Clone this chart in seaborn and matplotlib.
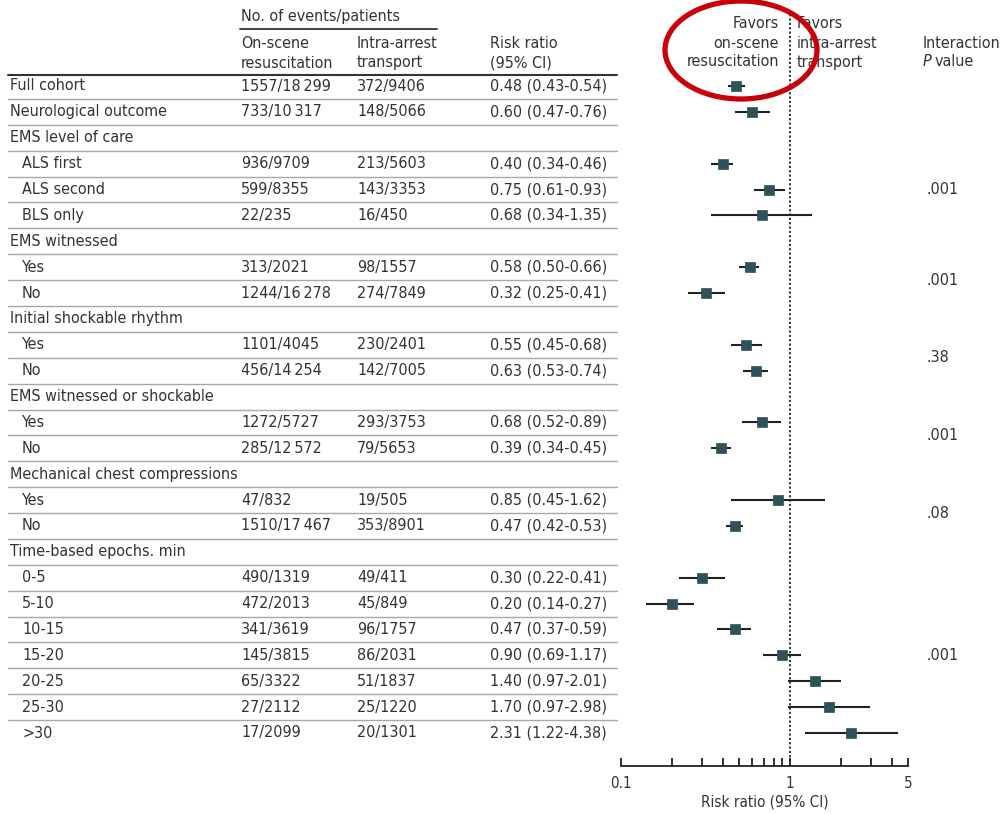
import numpy as np
import pandas as pd
import matplotlib
matplotlib.use("Agg")
import matplotlib.pyplot as plt
import matplotlib.transforms as mtransforms
from matplotlib import font_manager as fm
from matplotlib.patches import Ellipse
import seaborn as sns

# ---------------- data ----------------
labels = ["Full cohort", "Neurological outcome", "EMS level of care", "ALS first", "ALS second",
          "BLS only", "EMS witnessed", "Yes", "No", "Initial shockable rhythm", "Yes", "No",
          "EMS witnessed or shockable", "Yes", "No", "Mechanical chest compressions", "Yes", "No",
          "Time-based epochs. min", "0-5", "5-10", "10-15", "15-20", "20-25", "25-30", ">30"]
indented = [0, 0, 0, 1, 1, 1, 0, 1, 1, 0, 1, 1, 0, 1, 1, 0, 1, 1, 0, 1, 1, 1, 1, 1, 1, 1]
onscene = ["1557/18\u2009299", "733/10\u2009317", "", "936/9709", "599/8355", "22/235", "",
           "313/2021", "1244/16\u2009278", "", "1101/4045", "456/14\u2009254", "",
           "1272/5727", "285/12\u2009572", "", "47/832", "1510/17\u2009467", "",
           "490/1319", "472/2013", "341/3619", "145/3815", "65/3322", "27/2112", "17/2099"]
intra = ["372/9406", "148/5066", "", "213/5603", "143/3353", "16/450", "",
         "98/1557", "274/7849", "", "230/2401", "142/7005", "",
         "293/3753", "79/5653", "", "19/505", "353/8901", "",
         "49/411", "45/849", "96/1757", "86/2031", "51/1837", "25/1220", "20/1301"]
rr = [0.48, 0.60, np.nan, 0.40, 0.75, 0.68, np.nan, 0.58, 0.32, np.nan, 0.55, 0.63, np.nan,
      0.68, 0.39, np.nan, 0.85, 0.47, np.nan, 0.30, 0.20, 0.47, 0.90, 1.40, 1.70, 2.31]
lo = [0.43, 0.47, np.nan, 0.34, 0.61, 0.34, np.nan, 0.50, 0.25, np.nan, 0.45, 0.53, np.nan,
      0.52, 0.34, np.nan, 0.45, 0.42, np.nan, 0.22, 0.14, 0.37, 0.69, 0.97, 0.97, 1.22]
hi = [0.54, 0.76, np.nan, 0.46, 0.93, 1.35, np.nan, 0.66, 0.41, np.nan, 0.68, 0.74, np.nan,
      0.89, 0.45, np.nan, 1.62, 0.53, np.nan, 0.41, 0.27, 0.59, 1.17, 2.01, 2.98, 4.38]
pval_groups = [(3, 5), (7, 8), (10, 11), (13, 14), (16, 17), (19, 25)]
pval_text = [".001", ".001", ".38", ".001", ".08", ".001"]
xticks_major = [0.1, 1, 5]
xtick_labels = ["0.1", "1", "5"]
xticks_minor = [0.2, 0.3, 0.4, 0.5, 0.6, 0.7, 0.8, 0.9, 2, 3, 4]

df = pd.DataFrame({"label": labels, "indent": indented, "onscene": onscene, "intra": intra,
                   "rr": rr, "lo": lo, "hi": hi})
df["row"] = np.arange(len(df))

# ---------------- style ----------------
sns.set_style("white")
names = {f.name for f in fm.fontManager.ttflist}
STRETCH = "normal"
if "Liberation Sans Narrow" in names:
    FAM = ["Liberation Sans Narrow", "DejaVu Sans"]
else:
    FAM = ["DejaVu Sans"]
    if any(f.name == "DejaVu Sans" and f.stretch == "condensed" for f in fm.fontManager.ttflist):
        STRETCH = "condensed"
plt.rcParams["font.family"] = FAM
plt.rcParams["font.stretch"] = STRETCH
TXT = "#333333"
MK = "#2d5257"

W, H = 1001, 814
fig = plt.figure(figsize=(W / 100, H / 100), dpi=100)
fig.patch.set_facecolor("white")

# fit font size so "0.48 (0.43-0.54)" is ~117 px wide, like the reference
renderer = fig.canvas.get_renderer()
probe = fig.text(0, 0, "0.48 (0.43-0.54)", fontsize=10)
wpx = probe.get_window_extent(renderer).width
probe.remove()
FS = 10 * 117.0 / wpx

ax_l, ax_r, ax_bot = 621, 908, 766
ax = fig.add_axes([ax_l / W, (H - ax_bot) / H, (ax_r - ax_l) / W, ax_bot / H])
ax.set_xscale("log")
ax.set_xlim(0.1, 5)
row0_px, row_step = 86, 25.88
ax.set_ylim((ax_bot - row0_px) / row_step, (0 - row0_px) / row_step)

def py(p):  # figure pixel y -> data y
    return (p - row0_px) / row_step

d = df.dropna(subset=["rr"])
ax.hlines(d["row"], d["lo"], d["hi"], color="#222222", lw=1.5, zorder=2)
sns.scatterplot(data=d, x="rr", y="row", marker="s", s=48, color=MK, edgecolor=MK,
                linewidth=0.5, ax=ax, zorder=3, legend=False)
ax.vlines(1, py(766), py(12), color="#222222", lw=1.3, linestyles=(0, (1.2, 1.2)), zorder=1)

for s in ["top", "right", "left"]:
    ax.spines[s].set_visible(False)
ax.spines["bottom"].set_color("#222222")
ax.spines["bottom"].set_linewidth(1.3)
ax.set_yticks([])
ax.set_ylabel("")
ax.set_xticks(xticks_major)
ax.set_xticklabels(xtick_labels)
ax.set_xticks(xticks_minor, minor=True)
ax.xaxis.set_minor_formatter(matplotlib.ticker.NullFormatter())
ax.tick_params(axis="x", which="both", direction="in", length=6, width=1.3, color="#222222",
               bottom=True, labelsize=FS * 0.95, labelcolor=TXT, pad=7)
ax.set_xlabel("Risk ratio (95% CI)", fontsize=FS * 0.95, color=TXT, labelpad=3)
ax.patch.set_alpha(0)

# ---------------- table ----------------
tr = mtransforms.blended_transform_factory(fig.transFigure, ax.transData)
def fx(p):
    return p / W

for _, r in df.iterrows():
    y = r["row"]
    x0 = 22 if r["indent"] else 10
    kw = dict(transform=tr, va="center", ha="left", fontsize=FS, color=TXT, clip_on=False)
    fig.text(fx(x0), y, r["label"], **kw)
    if r["onscene"]:
        fig.text(fx(241), y, r["onscene"], **kw)
        fig.text(fx(357), y, r["intra"], **kw)
        fig.text(fx(490), y, f"{r['rr']:.2f} ({r['lo']:.2f}-{r['hi']:.2f})", **kw)

# separator lines
for i in range(len(df) - 1):
    fig.add_artist(plt.Line2D([fx(8), fx(617)], [i + 0.5, i + 0.5], transform=tr,
                              color="#a8a8a8", lw=1.0))
fig.add_artist(plt.Line2D([fx(8), fx(617)], [py(75), py(75)], transform=tr,
                          color="#333333", lw=1.5))
fig.add_artist(plt.Line2D([fx(240), fx(437)], [py(29), py(29)], transform=tr,
                          color="#333333", lw=1.3))

# headers
hk = dict(transform=tr, va="center", fontsize=FS, color=TXT)
fig.text(fx(241), py(17), "No. of events/patients", ha="left", **hk)
fig.text(fx(241), py(44), "On-scene", ha="left", **hk)
fig.text(fx(241), py(63), "resuscitation", ha="left", **hk)
fig.text(fx(357), py(44), "Intra-arrest", ha="left", **hk)
fig.text(fx(357), py(63), "transport", ha="left", **hk)
fig.text(fx(490), py(44), "Risk ratio", ha="left", **hk)
fig.text(fx(490), py(63), "(95% CI)", ha="left", **hk)
fig.text(fx(779), py(23), "Favors", ha="right", **hk)
fig.text(fx(779), py(43), "on-scene", ha="right", **hk)
fig.text(fx(779), py(62), "resuscitation", ha="right", **hk)
fig.text(fx(797), py(23), "Favors", ha="left", **hk)
fig.text(fx(797), py(43), "intra-arrest", ha="left", **hk)
fig.text(fx(797), py(62), "transport", ha="left", **hk)
fig.text(fx(923), py(43), "Interaction", ha="left", **hk)
ptxt = fig.text(fx(923), py(61), "P", ha="left", style="italic", **hk)
pw = ptxt.get_window_extent(renderer).width
fig.text(fx(923 + pw + 3), py(61), "value", ha="left", **hk)

for (a, b), t in zip(pval_groups, pval_text):
    fig.text(fx(927), (a + b) / 2, t, ha="left", **hk)

# red highlight ellipse
fig.add_artist(Ellipse((741 / W, 1 - 50 / H), 152 / W, 98 / H, transform=fig.transFigure,
                       fill=False, edgecolor="#c8000a", lw=3.8, zorder=10))

fig.savefig("out.png", dpi=100, facecolor="white")
